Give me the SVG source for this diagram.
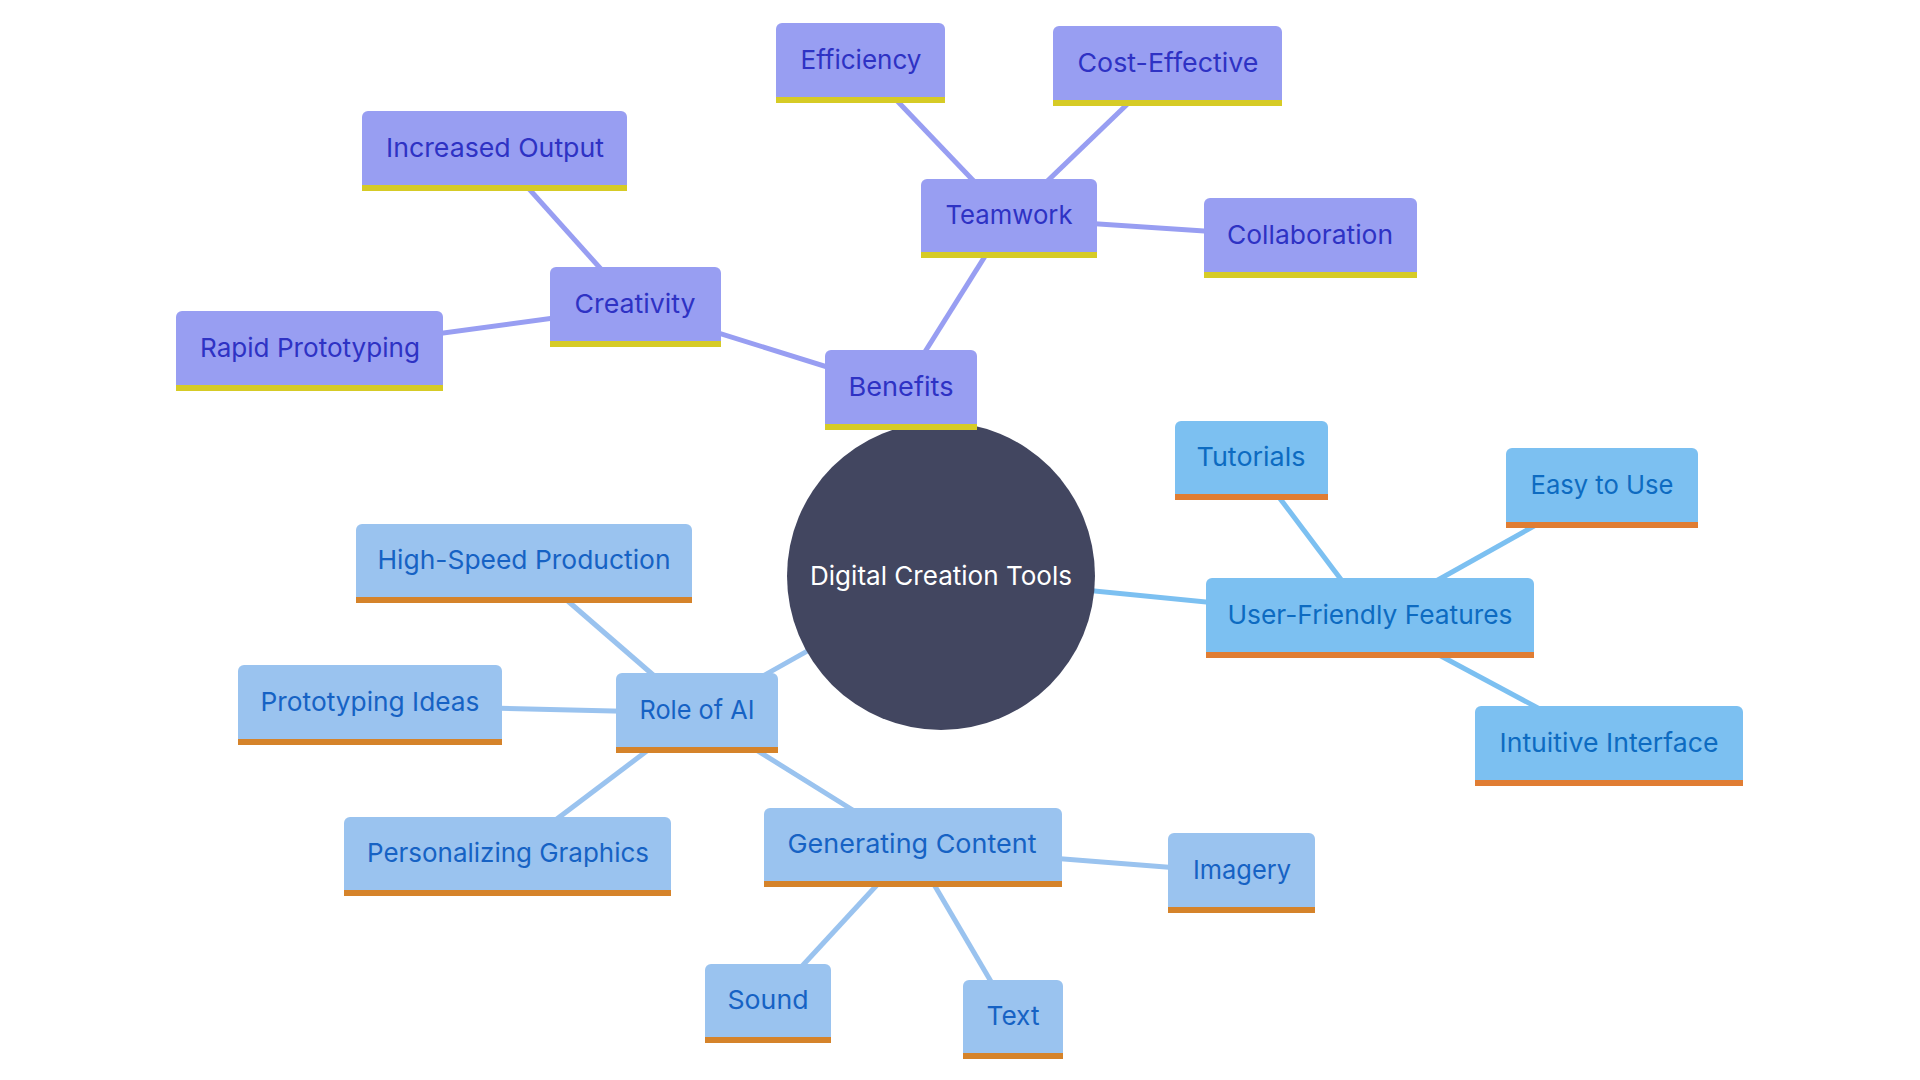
<svg xmlns="http://www.w3.org/2000/svg" width="1920" height="1080" viewBox="0 0 1920 1080">
<style>
text{font-family:Inter,"Noto Sans",sans-serif;font-size:26px;text-anchor:middle}
.p .f{fill:#989ef2}.p .bd{fill:#d6cb26}.p text{fill:#2e32c4}
.r .f{fill:#9ac3ef}.r .bd{fill:#d5832a}.r text{fill:#1662c4}
.u .f{fill:#7cc0f1}.u .bd{fill:#e07d33}.u text{fill:#0d6bc1}
.lp{stroke:#989ef2}.lr{stroke:#9ac3ef}.lu{stroke:#7cc0f1}
#edges line{stroke-width:5;stroke-linecap:butt}
</style>
<rect width="1920" height="1080" fill="#ffffff"/>
<g id="edges">
<line class="lp" x1="941" y1="576" x2="901" y2="390"/>
<line class="lr" x1="941" y1="576" x2="697" y2="713"/>
<line class="lu" x1="941" y1="576" x2="1370" y2="618"/>
<line class="lp" x1="901" y1="390" x2="635" y2="307"/>
<line class="lp" x1="901" y1="390" x2="1009" y2="218"/>
<line class="lp" x1="635" y1="307" x2="495" y2="151"/>
<line class="lp" x1="635" y1="307" x2="310" y2="351"/>
<line class="lp" x1="1009" y1="218" x2="861" y2="63"/>
<line class="lp" x1="1009" y1="218" x2="1168" y2="65"/>
<line class="lp" x1="1009" y1="218" x2="1310" y2="238"/>
<line class="lu" x1="1370" y1="618" x2="1251" y2="460"/>
<line class="lu" x1="1370" y1="618" x2="1602" y2="488"/>
<line class="lu" x1="1370" y1="618" x2="1609" y2="746"/>
<line class="lr" x1="697" y1="713" x2="524" y2="563"/>
<line class="lr" x1="697" y1="713" x2="370" y2="705"/>
<line class="lr" x1="697" y1="713" x2="508" y2="856"/>
<line class="lr" x1="697" y1="713" x2="912" y2="847"/>
<line class="lr" x1="912" y1="847" x2="1242" y2="873"/>
<line class="lr" x1="912" y1="847" x2="768" y2="1003"/>
<line class="lr" x1="912" y1="847" x2="1013" y2="1019"/>
</g>
<g id="root">
<circle cx="941" cy="576" r="154" fill="#424660"/>
<text x="941" y="585" fill="#ffffff" textLength="262" lengthAdjust="spacingAndGlyphs">Digital Creation Tools</text>
</g>
<g id="benefits" class="p"><rect class="f" x="825" y="350" width="152" height="80" rx="6"/><rect class="f" x="825" y="400" width="152" height="30"/><rect class="bd" x="825" y="424" width="152" height="6"/><text x="901" y="396" textLength="105" lengthAdjust="spacingAndGlyphs">Benefits</text></g>
<g id="creativity" class="p"><rect class="f" x="550" y="267" width="171" height="80" rx="6"/><rect class="f" x="550" y="317" width="171" height="30"/><rect class="bd" x="550" y="341" width="171" height="6"/><text x="635" y="313" textLength="121" lengthAdjust="spacingAndGlyphs">Creativity</text></g>
<g id="increased-output" class="p"><rect class="f" x="362" y="111" width="265" height="80" rx="6"/><rect class="f" x="362" y="161" width="265" height="30"/><rect class="bd" x="362" y="185" width="265" height="6"/><text x="495" y="157" textLength="218" lengthAdjust="spacingAndGlyphs">Increased Output</text></g>
<g id="rapid-prototyping" class="p"><rect class="f" x="176" y="311" width="267" height="80" rx="6"/><rect class="f" x="176" y="361" width="267" height="30"/><rect class="bd" x="176" y="385" width="267" height="6"/><text x="310" y="357" textLength="220" lengthAdjust="spacingAndGlyphs">Rapid Prototyping</text></g>
<g id="teamwork" class="p"><rect class="f" x="921" y="179" width="176" height="79" rx="6"/><rect class="f" x="921" y="228" width="176" height="30"/><rect class="bd" x="921" y="252" width="176" height="6"/><text x="1009" y="224" textLength="127" lengthAdjust="spacingAndGlyphs">Teamwork</text></g>
<g id="efficiency" class="p"><rect class="f" x="776" y="23" width="169" height="80" rx="6"/><rect class="f" x="776" y="73" width="169" height="30"/><rect class="bd" x="776" y="97" width="169" height="6"/><text x="861" y="69" textLength="121" lengthAdjust="spacingAndGlyphs">Efficiency</text></g>
<g id="cost-effective" class="p"><rect class="f" x="1053" y="26" width="229" height="80" rx="6"/><rect class="f" x="1053" y="76" width="229" height="30"/><rect class="bd" x="1053" y="100" width="229" height="6"/><text x="1168" y="72" textLength="181" lengthAdjust="spacingAndGlyphs">Cost-Effective</text></g>
<g id="collaboration" class="p"><rect class="f" x="1204" y="198" width="213" height="80" rx="6"/><rect class="f" x="1204" y="248" width="213" height="30"/><rect class="bd" x="1204" y="272" width="213" height="6"/><text x="1310" y="244" textLength="166" lengthAdjust="spacingAndGlyphs">Collaboration</text></g>
<g id="user-friendly" class="u"><rect class="f" x="1206" y="578" width="328" height="80" rx="6"/><rect class="f" x="1206" y="628" width="328" height="30"/><rect class="bd" x="1206" y="652" width="328" height="6"/><text x="1370" y="624" textLength="285" lengthAdjust="spacingAndGlyphs">User-Friendly Features</text></g>
<g id="tutorials" class="u"><rect class="f" x="1175" y="421" width="153" height="79" rx="6"/><rect class="f" x="1175" y="470" width="153" height="30"/><rect class="bd" x="1175" y="494" width="153" height="6"/><text x="1251" y="466" textLength="109" lengthAdjust="spacingAndGlyphs">Tutorials</text></g>
<g id="easy-to-use" class="u"><rect class="f" x="1506" y="448" width="192" height="80" rx="6"/><rect class="f" x="1506" y="498" width="192" height="30"/><rect class="bd" x="1506" y="522" width="192" height="6"/><text x="1602" y="494" textLength="143" lengthAdjust="spacingAndGlyphs">Easy to Use</text></g>
<g id="intuitive-interface" class="u"><rect class="f" x="1475" y="706" width="268" height="80" rx="6"/><rect class="f" x="1475" y="756" width="268" height="30"/><rect class="bd" x="1475" y="780" width="268" height="6"/><text x="1609" y="752" textLength="219" lengthAdjust="spacingAndGlyphs">Intuitive Interface</text></g>
<g id="role-of-ai" class="r"><rect class="f" x="616" y="673" width="162" height="80" rx="6"/><rect class="f" x="616" y="723" width="162" height="30"/><rect class="bd" x="616" y="747" width="162" height="6"/><text x="697" y="719" textLength="115" lengthAdjust="spacingAndGlyphs">Role of AI</text></g>
<g id="high-speed-production" class="r"><rect class="f" x="356" y="524" width="336" height="79" rx="6"/><rect class="f" x="356" y="573" width="336" height="30"/><rect class="bd" x="356" y="597" width="336" height="6"/><text x="524" y="569" textLength="293" lengthAdjust="spacingAndGlyphs">High-Speed Production</text></g>
<g id="prototyping-ideas" class="r"><rect class="f" x="238" y="665" width="264" height="80" rx="6"/><rect class="f" x="238" y="715" width="264" height="30"/><rect class="bd" x="238" y="739" width="264" height="6"/><text x="370" y="711" textLength="219" lengthAdjust="spacingAndGlyphs">Prototyping Ideas</text></g>
<g id="personalizing-graphics" class="r"><rect class="f" x="344" y="817" width="327" height="79" rx="6"/><rect class="f" x="344" y="866" width="327" height="30"/><rect class="bd" x="344" y="890" width="327" height="6"/><text x="508" y="862" textLength="282" lengthAdjust="spacingAndGlyphs">Personalizing Graphics</text></g>
<g id="generating-content" class="r"><rect class="f" x="764" y="808" width="298" height="79" rx="6"/><rect class="f" x="764" y="857" width="298" height="30"/><rect class="bd" x="764" y="881" width="298" height="6"/><text x="912" y="853" textLength="249" lengthAdjust="spacingAndGlyphs">Generating Content</text></g>
<g id="imagery" class="r"><rect class="f" x="1168" y="833" width="147" height="80" rx="6"/><rect class="f" x="1168" y="883" width="147" height="30"/><rect class="bd" x="1168" y="907" width="147" height="6"/><text x="1242" y="879" textLength="98" lengthAdjust="spacingAndGlyphs">Imagery</text></g>
<g id="sound" class="r"><rect class="f" x="705" y="964" width="126" height="79" rx="6"/><rect class="f" x="705" y="1013" width="126" height="30"/><rect class="bd" x="705" y="1037" width="126" height="6"/><text x="768" y="1009" textLength="81" lengthAdjust="spacingAndGlyphs">Sound</text></g>
<g id="text" class="r"><rect class="f" x="963" y="980" width="100" height="79" rx="6"/><rect class="f" x="963" y="1029" width="100" height="30"/><rect class="bd" x="963" y="1053" width="100" height="6"/><text x="1013" y="1025" textLength="53" lengthAdjust="spacingAndGlyphs">Text</text></g>
</svg>
